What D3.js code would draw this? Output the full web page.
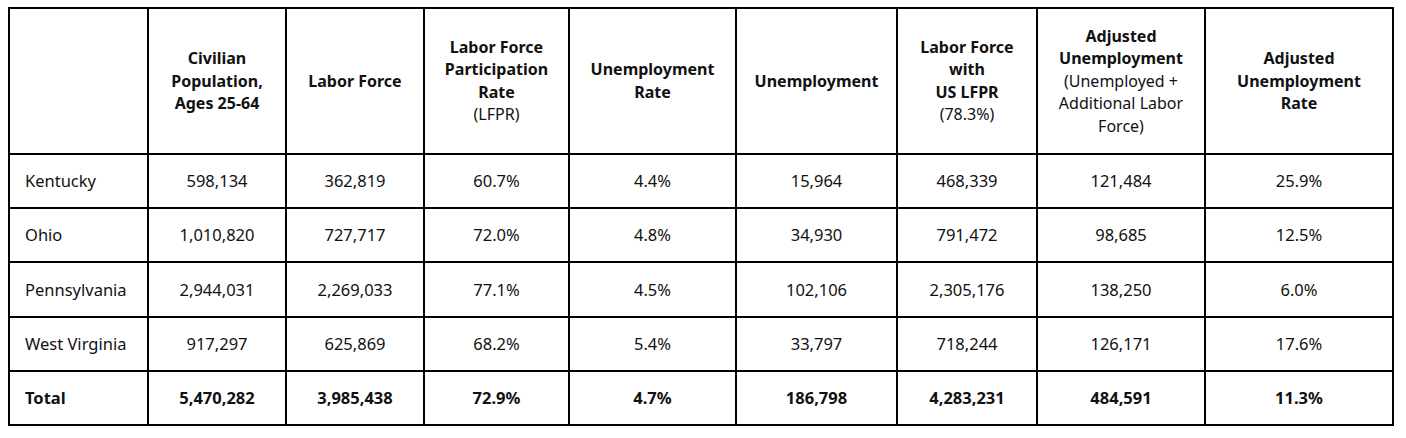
<!DOCTYPE html>
<html><head><meta charset="utf-8">
<script src="https://cdn.jsdelivr.net/npm/d3@7"></script>
<style>body{margin:0;background:#fff}</style></head>
<body><svg id="c" width="1406" height="438"></svg>
<script>
const headers=[[],
 [["Civilian",1],["Population,",1],["Ages 25-64",1]],
 [["Labor Force",1]],
 [["Labor Force",1],["Participation",1],["Rate",1],["(LFPR)",0]],
 [["Unemployment",1],["Rate",1]],
 [["Unemployment",1]],
 [["Labor Force",1],["with",1],["US LFPR",1],["(78.3%)",0]],
 [["Adjusted",1],["Unemployment",1],["(Unemployed +",0],["Additional Labor",0],["Force)",0]],
 [["Adjusted",1],["Unemployment",1],["Rate",1]]];
const states=["Kentucky","Ohio","Pennsylvania","West Virginia","Total"];
const civPop=["598,134","1,010,820","2,944,031","917,297","5,470,282"];
const laborForce=["362,819","727,717","2,269,033","625,869","3,985,438"];
const lfpr=["60.7%","72.0%","77.1%","68.2%","72.9%"];
const unempRate=["4.4%","4.8%","4.5%","5.4%","4.7%"];
const unemp=["15,964","34,930","102,106","33,797","186,798"];
const lfUS=["468,339","791,472","2,305,176","718,244","4,283,231"];
const adjUnemp=["121,484","98,685","138,250","126,171","484,591"];
const adjRate=["25.9%","12.5%","6.0%","17.6%","11.3%"];
const cols=[states,civPop,laborForce,lfpr,unempRate,unemp,lfUS,adjUnemp,adjRate];
const colEdges=[9,148,286,424,569,736,897,1037,1205,1393];
const rowEdges=[8,154,208,262,317,371,425];
const svg=d3.select("#c");
const font="'Noto Sans', sans-serif";
svg.selectAll("line.v").data(colEdges).join("line").attr("x1",d=>d).attr("x2",d=>d)
 .attr("y1",rowEdges[0]).attr("y2",rowEdges[rowEdges.length-1]).attr("stroke","#000").attr("stroke-width",2);
svg.selectAll("line.h").data(rowEdges).join("line").attr("y1",d=>d).attr("y2",d=>d)
 .attr("x1",colEdges[0]-1).attr("x2",colEdges[colEdges.length-1]+1).attr("stroke","#000").attr("stroke-width",2);
headers.forEach((lines,i)=>{
  const cx=(colEdges[i]+colEdges[i+1])/2, cy=(rowEdges[0]+rowEdges[1])/2, lh=22.5;
  const t=svg.append("text").attr("text-anchor","middle").attr("font-family",font).attr("font-size",16).attr("fill","#111");
  lines.forEach((l,j)=>{
    t.append("tspan").attr("x",cx).attr("y",cy+(j-(lines.length-1)/2)*lh+5.5)
     .attr("font-weight",l[1]?700:400).text(l[0]);
  });
});
states.forEach((s,r)=>{
  const cy=(rowEdges[r+1]+rowEdges[r+2])/2+6, bold=r===states.length-1;
  cols.forEach((c,i)=>{
    const first=i===0;
    svg.append("text").attr("x",first?colEdges[0]+16:(colEdges[i]+colEdges[i+1])/2).attr("y",cy)
      .attr("text-anchor",first?"start":"middle").attr("font-family",font).attr("font-size",16.5)
      .attr("font-weight",bold?700:400).attr("fill","#111").text(c[r]);
  });
});
</script></body></html>
